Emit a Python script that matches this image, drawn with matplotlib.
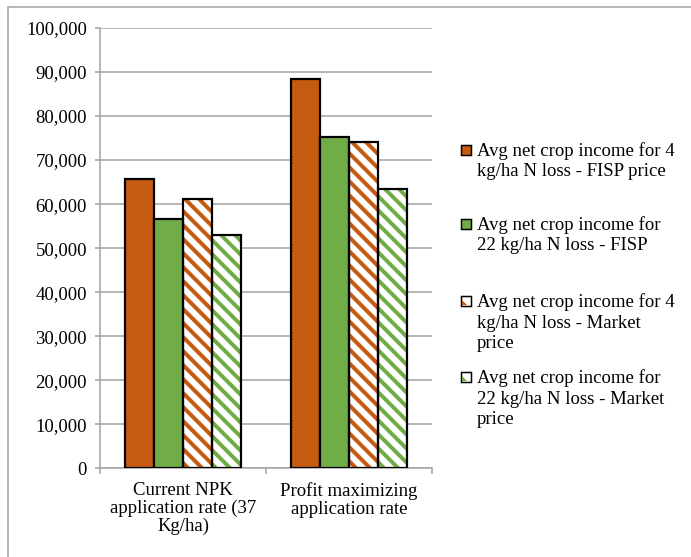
import matplotlib
matplotlib.use("Agg")
import matplotlib.pyplot as plt
from matplotlib.patches import Rectangle, Polygon
import numpy as np

categories = ["Current NPK\napplication rate (37\nKg/ha)", "Profit maximizing\napplication rate"]
series_labels = [
    "Avg net crop income for 4\nkg/ha N loss - FISP price",
    "Avg net crop income for\n22 kg/ha N loss - FISP",
    "Avg net crop income for 4\nkg/ha N loss - Market\nprice",
    "Avg net crop income for\n22 kg/ha N loss - Market\nprice",
]
fisp_4 = [65600, 88400]
fisp_22 = [56700, 75300]
market_4 = [61100, 74000]
market_22 = [53100, 63400]
y_ticks = list(range(0, 100001, 10000))

ORANGE = "#c55a11"
GREEN = "#70ad47"
GRID = "#a6a6a6"

W, H, DPI = 692, 557, 84
PX = 72 / DPI  # points per pixel


def fx(px):
    return px / W


def fy(py):
    return 1 - py / H


plt.rcParams["font.family"] = ["Liberation Serif", "DejaVu Serif"]
plt.rcParams["hatch.linewidth"] = 4.0 * PX
FS = 18.8 * PX

fig = plt.figure(figsize=(W / DPI, H / DPI), dpi=DPI)
ax = fig.add_axes([fx(100), fy(468.3), fx(332), 440.3 / H])

x = np.arange(len(categories))
width = 0.176
offsets = np.array([-1.5, -0.5, 0.5, 1.5]) * width
series = [fisp_4, fisp_22, market_4, market_22]
colors = [ORANGE, GREEN, ORANGE, GREEN]
hatched = [False, False, True, True]

for vals, off, col, h in zip(series, offsets, colors, hatched):
    if h:
        ax.bar(x + off, vals, width, color="white", edgecolor=col,
               hatch="\\\\", linewidth=0, zorder=2)
        ax.bar(x + off, vals, width, fill=False, edgecolor="black",
               linewidth=2.2 * PX, zorder=3)
    else:
        ax.bar(x + off, vals, width, color=col, edgecolor="black",
               linewidth=2.2 * PX, zorder=3)

ax.set_xlim(-0.5, 1.5)
ax.set_ylim(0, 100000)
ax.set_yticks(y_ticks)
ax.set_yticklabels([f"{v:,}" for v in y_ticks], fontsize=FS)
ax.yaxis.grid(True, color=GRID, linewidth=1.6 * PX, zorder=0)
ax.set_axisbelow(True)

ax.set_xticks([-0.5, 0.5, 1.5])
ax.set_xticklabels([])
ax.set_xticks(x, minor=True)
ax.set_xticklabels(categories, minor=True, fontsize=FS, linespacing=1.05)
ax.tick_params(axis="x", which="minor", length=0, pad=14 * PX)
ax.tick_params(axis="x", which="major", length=6 * PX, color=GRID, width=1.6 * PX)
ax.tick_params(axis="y", length=5 * PX, color=GRID, width=1.6 * PX, pad=8 * PX)

for s in ["top", "right"]:
    ax.spines[s].set_visible(False)
for s in ["left", "bottom"]:
    ax.spines[s].set_color(GRID)
    ax.spines[s].set_linewidth(1.6 * PX)

# legend, drawn entry by entry: marker square plus wrapped label lines
legend_baselines = [156, 230, 307, 383]
line_step = 20.5
marker_fc = [ORANGE, GREEN, "white", "white"]
marker_corner = [None, None, ORANGE, GREEN]
mx, ms = 461, 10
for label, base, fc, corner in zip(series_labels, legend_baselines, marker_fc, marker_corner):
    top = base - 1 - ms
    fig.patches.append(Rectangle((fx(mx), fy(base - 1)), ms / W, ms / H,
                                 transform=fig.transFigure, facecolor=fc,
                                 edgecolor="black", linewidth=1.5 * PX))
    if corner is not None:
        # a small piece of the diagonal stripe fill shows in the key box
        fig.patches.append(Polygon([(fx(mx + 1), fy(base - 2)),
                                    (fx(mx + 6), fy(base - 2)),
                                    (fx(mx + 1), fy(base - 7))],
                                   closed=True, transform=fig.transFigure,
                                   facecolor=corner, edgecolor="none"))
    for i, line in enumerate(label.split("\n")):
        fig.text(fx(477), fy(base + i * line_step), line, fontsize=FS,
                 ha="left", va="baseline")

# outer chart frame
fig.patches.append(Rectangle((fx(8), -0.05), 1.1, fy(7) + 0.05,
                             transform=fig.transFigure, fill=False,
                             edgecolor=GRID, linewidth=1.6 * PX, clip_on=False))

fig.savefig("out.png", dpi=DPI)
